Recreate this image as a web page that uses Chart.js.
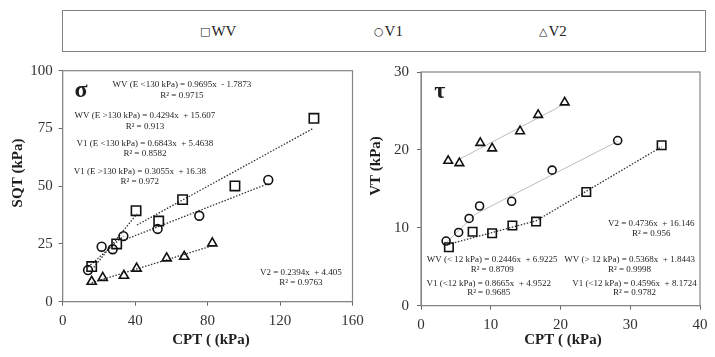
<!DOCTYPE html>
<html>
<head>
<meta charset="utf-8">
<script src="https://cdn.jsdelivr.net/npm/chart.js@4.4.0/dist/chart.umd.min.js"></script>
<style>
  body { margin: 0; background: #fff; }
  #wrap { position: relative; width: 715px; height: 357px; overflow: hidden; font-family: 'Liberation Serif', serif; }
  #legend { position: absolute; left: 62px; top: 10px; width: 644px; height: 42px; border: 1.5px solid #808080; box-sizing: border-box; }
  #legend span { position: absolute; top: 12px; font-size: 15px; color: #222; white-space: nowrap; }
  #legend b { font-weight: normal; font-size: 11px; font-family: 'DejaVu Sans', sans-serif; position: relative; top: -1px; margin-right: 1px; }
  canvas { position: absolute; top: 55px; }
</style>
</head>
<body>
<div id="wrap">
  <div id="legend">
    <span style="left:137px"><b>□</b>WV</span>
    <span style="left:311px"><b>○</b>V1</span>
    <span style="left:476px"><b>△</b>V2</span>
  </div>
  <canvas id="sigma" width="375" height="302" style="left:0"></canvas>
  <canvas id="tau" width="353" height="302" style="left:362px"></canvas>
</div>
<script>
// sigma panel (SQT vs CPT)
const sigmaWvX = [16.0, 29.8, 40.5, 53.0, 66.2, 95.1, 138.7];
const sigmaWvY = [15.2, 25.0, 39.4, 34.9, 44.2, 50.1, 79.4];
const sigmaV1X = [14.0, 21.5, 27.6, 33.5, 52.4, 75.4, 113.5];
const sigmaV1Y = [13.7, 23.8, 22.7, 28.4, 31.5, 37.2, 52.7];
const sigmaV2X = [16.0, 22.1, 33.8, 40.8, 57.4, 67.1, 82.6];
const sigmaV2Y = [8.7, 10.4, 11.3, 14.4, 18.8, 19.5, 25.3];

// sigma trend lines (end points)
const sigmaWvLowX = [15, 41];
const sigmaWvLowY = [12.8, 38.0];
const sigmaWvHighX = [41, 138.5];
const sigmaWvHighY = [33.2, 75.1];
const sigmaV1LowX = [14, 33.5];
const sigmaV1LowY = [15.0, 28.4];
const sigmaV1HighX = [33.5, 113.5];
const sigmaV1HighY = [26.6, 51.1];
const sigmaV2FitX = [16, 82.6];
const sigmaV2FitY = [8.2, 24.2];

// tau panel (VT vs CPT)
const tauWvX = [4.0, 7.4, 10.2, 13.1, 16.5, 23.7, 34.5];
const tauWvY = [7.5, 9.5, 9.3, 10.3, 10.8, 14.6, 20.6];
const tauV1X = [3.6, 5.4, 6.9, 8.4, 13.0, 18.8, 28.2];
const tauV1Y = [8.3, 9.4, 11.2, 12.8, 13.4, 17.4, 21.2];
const tauV2X = [3.9, 5.5, 8.5, 10.2, 14.2, 16.8, 20.6];
const tauV2Y = [18.6, 18.3, 20.9, 20.2, 22.4, 24.5, 26.1];

const tauWvFitX = [4, 16.5, 34.5];
const tauWvFitY = [7.9, 10.9, 20.4];
const tauV1FitX = [3.6, 7.9, 28.2];
const tauV1FitY = [8.1, 11.8, 21.1];
const tauV2FitX = [5.5, 20.6];
const tauV2FitY = [18.8, 25.9];

// axis ticks
const sigmaXTicks = [0, 40, 80, 120, 160];
const sigmaYTicks = [0, 25, 50, 75, 100];
const tauXTicks = [0, 10, 20, 30, 40];
const tauYTicks = [0, 10, 20, 30];

const SERIF = "'Liberation Serif', 'Times New Roman', serif";
const INK = '#1e1e1e';

function pts(xs, ys) {
  return xs.map((x, i) => ({ x, y: ys[i] }));
}

function marker(xs, ys, style, radius) {
  return {
    data: pts(xs, ys),
    pointStyle: style,
    pointRadius: radius,
    pointBorderColor: '#111',
    pointBorderWidth: 1.6,
    pointBackgroundColor: 'rgba(0,0,0,0)',
    showLine: false,
  };
}

function fit(xs, ys, dotted) {
  return {
    data: pts(xs, ys),
    showLine: true,
    borderColor: dotted ? '#333' : '#bdbdbd',
    borderWidth: dotted ? 1.3 : 1,
    borderDash: dotted ? [1.5, 1.6] : [],
    pointRadius: 0,
    fill: false,
  };
}

// frame, equations, greek letter and axis titles
function decor(cfg) {
  return {
    id: 'decor',
    afterDraw(chart) {
      const { ctx, chartArea: a, scales: { x, y } } = chart;
      ctx.save();
      ctx.strokeStyle = '#858585';
      ctx.lineWidth = 1.2;
      ctx.strokeRect(a.left, a.top, a.right - a.left, a.bottom - a.top);

      ctx.fillStyle = INK;
      ctx.textAlign = 'center';
      ctx.textBaseline = 'middle';
      ctx.font = `9px ${SERIF}`;
      cfg.notes.forEach((n) => {
        ctx.fillText(n[0], x.getPixelForValue(n[1]), y.getPixelForValue(n[2]));
      });

      ctx.textBaseline = 'alphabetic';
      ctx.font = `bold 24px ${SERIF}`;
      ctx.fillText(cfg.symbol[0], x.getPixelForValue(cfg.symbol[1]), y.getPixelForValue(cfg.symbol[2]));

      ctx.textBaseline = 'middle';
      ctx.font = `bold 15px ${SERIF}`;
      ctx.fillText(cfg.xTitle[0], cfg.xTitle[1], cfg.xTitle[2]);
      ctx.translate(cfg.yTitle[1], cfg.yTitle[2]);
      ctx.rotate(-Math.PI / 2);
      ctx.fillText(cfg.yTitle[0], 0, 0);
      ctx.restore();
    },
  };
}

function axis(min, max, ticks, extra) {
  return {
    type: 'linear',
    min,
    max,
    afterBuildTicks: (scale) => { scale.ticks = ticks.map((v) => ({ value: v })); },
    grid: { drawOnChartArea: false, drawTicks: true, tickLength: 4, color: '#666' },
    border: { display: true, color: '#858585' },
    ticks: { font: { family: SERIF, size: 15 }, color: '#333', padding: 6 },
    ...extra,
  };
}

function build(id, datasets, scales, padding, cfg) {
  return new Chart(document.getElementById(id), {
    type: 'scatter',
    data: { datasets },
    options: {
      responsive: false,
      animation: false,
      devicePixelRatio: 1,
      layout: { padding },
      plugins: { legend: { display: false }, tooltip: { enabled: false } },
      scales,
    },
    plugins: [decor(cfg)],
  });
}

build('sigma', [
  marker(sigmaWvX, sigmaWvY, 'rect', 6.6),
  marker(sigmaV1X, sigmaV1Y, 'circle', 4.4),
  marker(sigmaV2X, sigmaV2Y, 'triangle', 5.3),
  fit(sigmaWvLowX, sigmaWvLowY, true),
  fit(sigmaWvHighX, sigmaWvHighY, true),
  fit(sigmaV1LowX, sigmaV1LowY, true),
  fit(sigmaV1HighX, sigmaV1HighY, true),
  fit(sigmaV2FitX, sigmaV2FitY, true),
], {
  x: axis(0, 160, sigmaXTicks, { afterFit: (s) => { s.height = 55.3; } }),
  y: axis(0, 100, sigmaYTicks, { afterFit: (s) => { s.width = 62.7; } }),
}, { left: 0, right: 22.5, top: 15.7, bottom: 0 }, {
  notes: [
    ['WV (E <130 kPa) = 0.9695x  - 1.7873', 65.8, 93.8],
    ['R² = 0.9715', 65.8, 89.0],
    ['WV (E >130 kPa) = 0.4294x  + 15.607', 45.4, 80.4],
    ['R² = 0.913', 45.4, 75.6],
    ['V1 (E <130 kPa) = 0.6843x  + 5.4638', 45.4, 68.3],
    ['R² = 0.8582', 45.4, 63.9],
    ['V1 (E >130 kPa) = 0.3055x  + 16.38', 42.6, 56.1],
    ['R² = 0.972', 42.6, 51.8],
    ['V2 = 0.2394x  + 4.405', 131.5, 12.5],
    ['R² = 0.9763', 131.5, 8.1],
  ],
  symbol: ['σ', 10.1, 88.6],
  xTitle: ['CPT ( (kPa)', 211, 285],
  yTitle: ['SQT (kPa)', 18, 118],
});

build('tau', [
  marker(tauWvX, tauWvY, 'rect', 6.0),
  marker(tauV1X, tauV1Y, 'circle', 4.0),
  marker(tauV2X, tauV2Y, 'triangle', 5.0),
  fit(tauWvFitX, tauWvFitY, true),
  fit(tauV1FitX, tauV1FitY, false),
  fit(tauV2FitX, tauV2FitY, false),
], {
  x: axis(0, 40, tauXTicks, { afterFit: (s) => { s.height = 51.3; } }),
  y: axis(0, 30, tauYTicks, {
    afterFit: (s) => { s.width = 59; },
    ticks: { font: { family: SERIF, size: 15 }, color: '#333', padding: 8 },
  }),
}, { left: 0, right: 15, top: 15, bottom: 0 }, {
  notes: [
    ['V2 = 0.4736x  + 16.146', 33.0, 10.5],
    ['R² = 0.956', 33.0, 9.25],
    ['WV (< 12 kPa) = 0.2446x  + 6.9225', 10.2, 5.94],
    ['R² = 0.8709', 10.2, 4.67],
    ['WV (> 12 kPa) = 0.5368x  + 1.8443', 29.9, 5.94],
    ['R² = 0.9998', 29.9, 4.67],
    ['V1 (<12 kPa) = 0.8665x  + 4.9522', 9.7, 2.89],
    ['R² = 0.9685', 9.7, 1.62],
    ['V1 (<12 kPa) = 0.4596x  + 8.1724', 30.6, 2.89],
    ['R² = 0.9782', 30.6, 1.62],
  ],
  symbol: ['τ', 2.7, 26.6],
  xTitle: ['CPT ( (kPa)', 201, 285],
  yTitle: ['VT (kPa)', 14, 111],
});
</script>
</body>
</html>
